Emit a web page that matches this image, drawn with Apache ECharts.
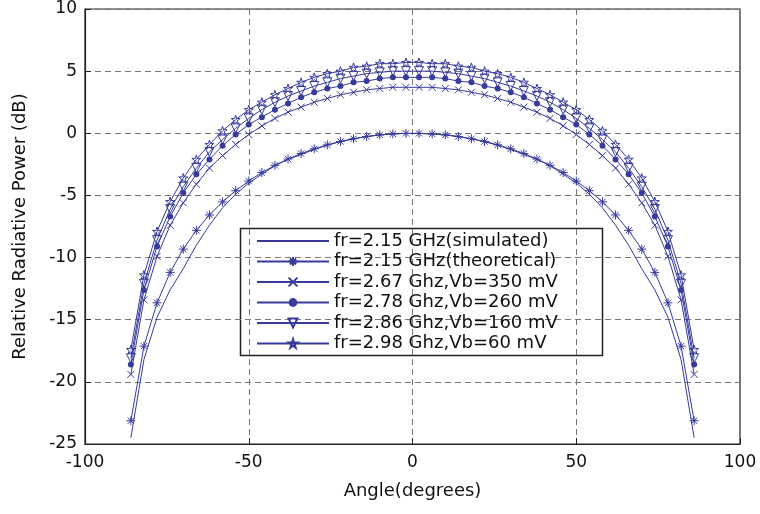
<!DOCTYPE html>
<html><head><meta charset="utf-8">
<script src="https://cdn.jsdelivr.net/npm/echarts@6/dist/echarts.min.js"></script>
<style>html,body{margin:0;padding:0;background:#fff}#c{width:760px;height:514px}</style>
</head><body><div id="c"></div>
<script>
const angles = [-86,-82,-78,-74,-70,-66,-62,-58,-54,-50,-46,-42,-38,-34,-30,-26,-22,-18,-14,-10,-6,-2,
                2,6,10,14,18,22,26,30,34,38,42,46,50,54,58,62,66,70,74,78,82,86];
const simulated = [-24.5,-18.2,-14.8,-12.6,-10.9,-9.0,-7.4,-6.0,-4.9,-4.0,-3.3,-2.6,-2.1,-1.7,-1.3,-0.95,-0.67,-0.45,-0.26,-0.13,-0.05,-0.01,
                   -0.01,-0.05,-0.13,-0.26,-0.45,-0.67,-0.95,-1.3,-1.7,-2.1,-2.6,-3.3,-4.0,-4.9,-6.0,-7.4,-9.0,-10.9,-12.6,-14.8,-18.2,-24.5];
const theoretical = [-23.13,-17.13,-13.64,-11.19,-9.32,-7.81,-6.57,-5.52,-4.62,-3.84,-3.16,-2.58,-2.07,-1.63,-1.25,-0.93,-0.66,-0.44,-0.26,-0.13,-0.05,-0.01,
                     -0.01,-0.05,-0.13,-0.26,-0.44,-0.66,-0.93,-1.25,-1.63,-2.07,-2.58,-3.16,-3.84,-4.62,-5.52,-6.57,-7.81,-9.32,-11.19,-13.64,-17.13,-23.13];
const vb350 = [-19.4,-13.4,-9.9,-7.4,-5.6,-4.1,-2.8,-1.8,-0.9,-0.1,0.6,1.2,1.7,2.1,2.5,2.8,3.1,3.3,3.5,3.6,3.7,3.7,
               3.7,3.7,3.6,3.5,3.3,3.1,2.8,2.5,2.1,1.7,1.2,0.6,-0.1,-0.9,-1.8,-2.8,-4.1,-5.6,-7.4,-9.9,-13.4,-19.4];
const vb260 = [-18.6,-12.6,-9.1,-6.7,-4.8,-3.3,-2.1,-1.0,-0.1,0.7,1.3,1.9,2.4,2.9,3.3,3.6,3.8,4.1,4.2,4.4,4.5,4.5,
               4.5,4.5,4.4,4.2,4.1,3.8,3.6,3.3,2.9,2.4,1.9,1.3,0.7,-0.1,-1.0,-2.1,-3.3,-4.8,-6.7,-9.1,-12.6,-18.6];
const vb160 = [-18.1,-12.1,-8.6,-6.1,-4.3,-2.8,-1.5,-0.5,0.4,1.2,1.9,2.5,3.0,3.4,3.8,4.1,4.4,4.6,4.8,4.9,5.0,5.0,
               5.0,5.0,4.9,4.8,4.6,4.4,4.1,3.8,3.4,3.0,2.5,1.9,1.2,0.4,-0.5,-1.5,-2.8,-4.3,-6.1,-8.6,-12.1,-18.1];
const vb60 = [-17.4,-11.4,-7.9,-5.5,-3.6,-2.1,-0.9,0.2,1.1,1.9,2.5,3.1,3.6,4.1,4.5,4.8,5.0,5.3,5.4,5.6,5.6,5.7,
              5.7,5.6,5.6,5.4,5.3,5.0,4.8,4.5,4.1,3.6,3.1,2.5,1.9,1.1,0.2,-0.9,-2.1,-3.6,-5.5,-7.9,-11.4,-17.4];
const seriesNames = ['fr=2.15 GHz(simulated)','fr=2.15 GHz(theoretical)','fr=2.67 Ghz,Vb=350 mV','fr=2.78 Ghz,Vb=260 mV','fr=2.86 Ghz,Vb=160 mV','fr=2.98 Ghz,Vb=60 mV'];
const xTicks = {min:-100, max:100, step:50};
const yTicks = {min:-25, max:10, step:5};

const C = '#363b9c';
const FONT = 'DejaVu Sans';
const pair = arr => angles.map((a,i)=>[a,arr[i]]);
const SYM = {
  asterisk: 'path://M5,0L5,10M0,5L10,5M1.5,1.5L8.5,8.5M8.5,1.5L1.5,8.5',
  cross: 'path://M0,0L10,10M10,0L0,10',
  tri: 'path://M0,0L10,0L5,9Z',
  star: 'path://M5,0L6.18,3.82L10,3.82L6.91,6.18L8.09,10L5,7.64L1.91,10L3.09,6.18L0,3.82L3.82,3.82Z'
};
function mk(name, data, symbol, size, hollow){
  return {
    name, type:'line', data: pair(data), symbol: symbol || 'none', symbolSize: size,
    showSymbol: !!symbol, animation:false,
    lineStyle:{color:C, width:1},
    itemStyle: hollow ? {color:'none', borderColor:C, borderWidth:1} : {color:C, borderColor:C, borderWidth:0},
    emphasis:{disabled:true}
  };
}
const legendData = seriesNames.map((n,i)=> i===0 ? {name:n, itemStyle:{opacity:0}} : {name:n});
const chart = echarts.init(document.getElementById('c'), null, {renderer:'canvas'});
chart.setOption({
  backgroundColor:'#fff',
  animation:false,
  grid:{left:85, right:20, top:9, bottom:70, show:true, borderColor:'#222', borderWidth:1.2, backgroundColor:'transparent'},
  xAxis:{type:'value', min:xTicks.min, max:xTicks.max, interval:xTicks.step,
    name:'Angle(degrees)', nameLocation:'middle', nameGap:38,
    nameTextStyle:{fontFamily:FONT, fontSize:18, color:'#111'},
    axisLine:{show:true, onZero:false, lineStyle:{color:'#222', width:1.2}},
    axisTick:{show:true, inside:true, length:6, lineStyle:{color:'#222'}},
    axisLabel:{fontFamily:FONT, fontSize:17, color:'#111', margin:10},
    splitLine:{show:true, lineStyle:{color:'#777', type:[6,4], width:1}}},
  yAxis:{type:'value', min:yTicks.min, max:yTicks.max, interval:yTicks.step,
    name:'Relative Radiative Power (dB)', nameLocation:'middle', nameGap:56,
    nameTextStyle:{fontFamily:FONT, fontSize:18, color:'#111'},
    axisLine:{show:true, onZero:false, lineStyle:{color:'#222', width:1.2}},
    axisTick:{show:true, inside:true, length:6, lineStyle:{color:'#222'}},
    axisLabel:{fontFamily:FONT, fontSize:17, color:'#111', margin:8},
    splitLine:{show:true, lineStyle:{color:'#777', type:[6,4], width:1}}},
  legend:{orient:'vertical', left:256, top:231, padding:0, itemWidth:72, itemHeight:11, itemGap:0.5,
    textStyle:{fontFamily:FONT, fontSize:18, color:'#111', lineHeight:20},
    data: legendData, selectedMode:false},
  graphic:[{type:'rect', shape:{x:240.5, y:228.5, width:362, height:127}, style:{fill:'#fff', stroke:'#222', lineWidth:1.5}, z:0, zlevel:0}],
  series:[
    mk(seriesNames[0], simulated, null, 0, false),
    mk(seriesNames[1], theoretical, SYM.asterisk, 9, true),
    mk(seriesNames[2], vb350, SYM.cross, 7, true),
    mk(seriesNames[3], vb260, 'circle', 6, false),
    mk(seriesNames[4], vb160, SYM.tri, 9, true),
    mk(seriesNames[5], vb60, SYM.star, 9, true)
  ]
});
</script></body></html>
